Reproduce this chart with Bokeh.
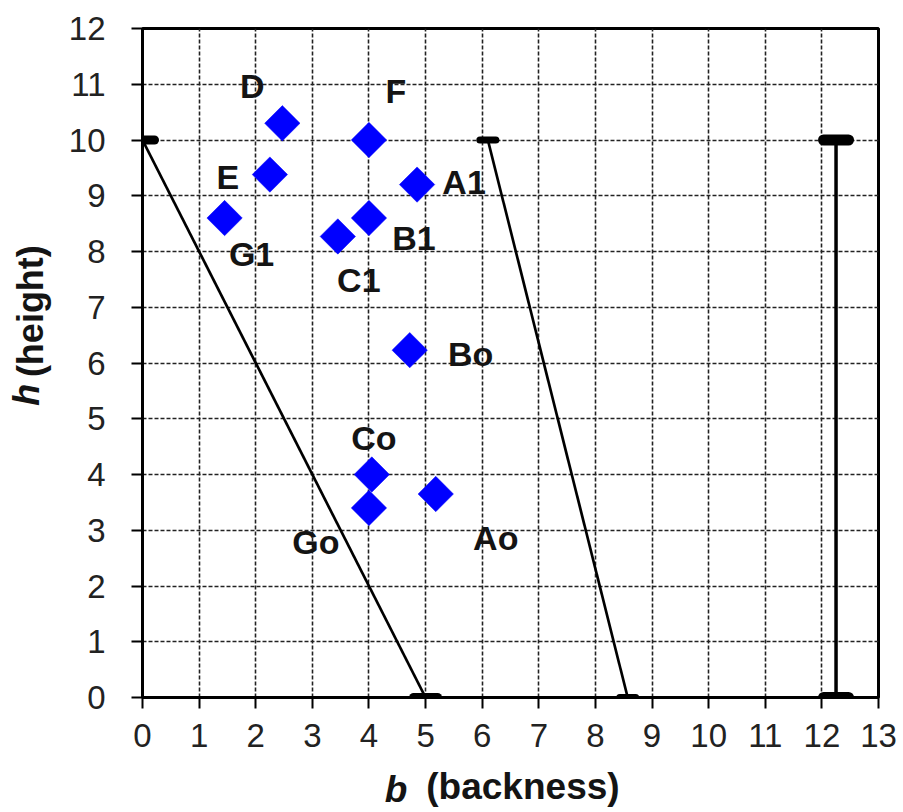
import math

from bokeh.core.properties import value
from bokeh.embed import file_html
from bokeh.models import ColumnDataSource, FixedTicker, LinearAxis, Range1d
from bokeh.plotting import figure
from bokeh.resources import INLINE

# Vowel positions: backness (b) and height (h)
vowels = ["D", "F", "E", "A1", "G1", "B1", "C1", "Bo", "Co", "Go", "Ao"]
backness = [2.47, 4.0, 2.25, 4.85, 1.45, 4.0, 3.45, 4.72, 4.05, 4.0, 5.18]
height = [10.3, 10.0, 9.38, 9.2, 8.6, 8.6, 8.27, 6.23, 4.0, 3.4, 3.65]

# Boundary lines (start and end points)
front_b = [0.0, 5.0]
front_h = [10.0, 0.0]
central_b = [6.1, 8.57]
central_h = [10.0, 0.0]
back_b = [12.25, 12.25]
back_h = [10.0, 0.0]

x_ticks = list(range(0, 14))
y_ticks = list(range(0, 13))

# Pixel offsets of each vowel's name relative to its marker
label_dx = [-30, 27, -42, 47, 27, 45, 21, 61, 2, -53, 60]
label_dy = [-37, -49, 2, -3, 36, 20, 44, 4, -37, 34, 44]

FONT = "Liberation Sans"
INK = "#141414"

p = figure(
    width=903,
    height=812,
    x_range=Range1d(0, 13),
    y_range=Range1d(0, 12),
    output_backend="svg",
    toolbar_location=None,
    min_border_left=142,
    min_border_right=25,
    min_border_top=28,
    min_border_bottom=114,
)
p.background_fill_color = "white"
p.border_fill_color = "white"
p.outline_line_color = "black"
p.outline_line_width = 3

xaxis = p.xaxis[0]
yaxis = p.yaxis[0]
for ax, ticks in ((xaxis, x_ticks), (yaxis, y_ticks)):
    ax.ticker = FixedTicker(ticks=ticks)
    ax.axis_line_width = 3
    ax.axis_line_color = "black"
    ax.major_tick_line_color = "black"
    ax.major_tick_line_width = 2
    ax.major_tick_out = 11
    ax.major_tick_in = 0
    ax.minor_tick_line_color = None
    ax.major_label_text_font = FONT
    ax.major_label_text_font_size = "33px"
    ax.major_label_text_color = "#222222"
    ax.axis_label = None
xaxis.major_label_standoff = 15
yaxis.major_label_standoff = 26

for g, ticks in ((p.xgrid[0], x_ticks), (p.ygrid[0], y_ticks)):
    g.ticker = FixedTicker(ticks=ticks)
    g.grid_line_color = "#222222"
    g.grid_line_width = 1.6
    g.grid_line_dash = "4 2"


def title_axis(pos, text, style, standoff, side, size):
    """A bare axis that only carries one styled word of an axis title."""
    ax = LinearAxis(ticker=FixedTicker(ticks=[pos]),
                    major_label_overrides={pos: text})
    ax.axis_line_color = None
    ax.major_tick_line_color = None
    ax.minor_tick_line_color = None
    ax.major_tick_out = 0
    ax.major_tick_in = 0
    ax.major_label_text_font = FONT
    ax.major_label_text_font_size = size
    ax.major_label_text_font_style = style
    ax.major_label_text_color = INK
    ax.major_label_standoff = standoff
    if side == "left":
        ax.major_label_orientation = "parallel"
    p.add_layout(ax, side)


# x title: "b (backness)", y title: "h (height)"
title_axis(6.72, "(backness)", "bold", 16, "below", "37px")
title_axis(4.48, "b", "bold italic", -41, "below", "37px")
title_axis(6.93, "(height)", "bold", 14, "left", "36px")
title_axis(5.43, "h", "bold italic", -40, "left", "36px")

# Boundary lines with their end caps
for bs, hs, lw, cap_size, cap_w in (
    (front_b, front_h, 2.7, 24, 9),
    (central_b, central_h, 2.7, 16, 7),
    (back_b, back_h, 3.5, 25, 11),
):
    p.line(bs, hs, line_color="black", line_width=lw)
    p.scatter(bs, hs, marker="dash", size=cap_size, line_color="black",
              line_width=cap_w, line_cap="round")

src = ColumnDataSource(dict(b=backness, h=height, name=vowels,
                            dx=label_dx, dy=label_dy))

p.scatter("b", "h", source=src, marker="square", size=25, angle=math.pi / 4,
          fill_color="#0000FF", line_color="#0000FF", line_width=0.5)

p.text("b", "h", text="name", source=src, x_offset="dx", y_offset="dy",
       text_font=value(FONT), text_font_style="bold", text_font_size="34px",
       text_color=INK, text_align="center", text_baseline="middle")

open("out.html", "w").write(file_html(p, INLINE))
